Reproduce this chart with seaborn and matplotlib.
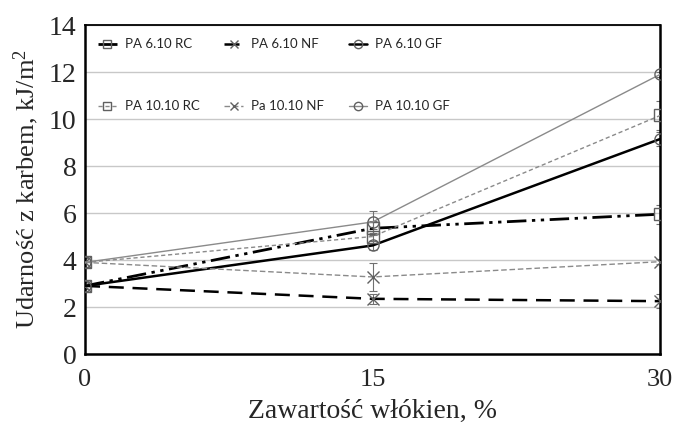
import matplotlib
matplotlib.use("Agg")
import matplotlib.pyplot as plt
import seaborn as sns
import pandas as pd

# Data
fiber = [0, 15, 30]
labels = ["PA 6.10 RC", "PA 6.10 NF", "PA 6.10 GF", "PA 10.10 RC", "Pa 10.10 NF", "PA 10.10 GF"]
pa610_rc = [2.9, 5.35, 5.95]
pa610_nf = [2.9, 2.35, 2.25]
pa610_gf = [2.9, 4.62, 9.15]
pa1010_rc = [3.9, 5.0, 10.15]
pa1010_nf = [3.9, 3.28, 3.93]
pa1010_gf = [3.9, 5.62, 11.9]
err610_rc = [0.15, 0.3, 0.4]
err610_nf = [0.15, 0.2, 0.3]
err610_gf = [0.15, 0.2, 0.3]
err1010_rc = [0.2, 0.3, 0.6]
err1010_nf = [0.2, 0.6, 0.12]
err1010_gf = [0.2, 0.45, 0.12]
yticks = [0, 2, 4, 6, 8, 10, 12, 14]
xticks = [0, 15, 30]

values = [pa610_rc, pa610_nf, pa610_gf, pa1010_rc, pa1010_nf, pa1010_gf]
errors = [err610_rc, err610_nf, err610_gf, err1010_rc, err1010_nf, err1010_gf]

rows = []
for lab, vals in zip(labels, values):
    for x, v in zip(fiber, vals):
        rows.append({"fiber": x, "value": v, "series": lab})
df = pd.DataFrame(rows)

styles = {
    "PA 6.10 RC": dict(color="black", lw=2.0, dashes=(7, 2, 1.2, 2, 1.2, 2), marker="s"),
    "PA 6.10 NF": dict(color="black", lw=1.8, dashes=(6, 3.5), marker="x"),
    "PA 6.10 GF": dict(color="black", lw=1.8, dashes=None, marker="o"),
    "PA 10.10 RC": dict(color="#8a8a8a", lw=1.0, dashes=(3, 2), marker="s"),
    "Pa 10.10 NF": dict(color="#8a8a8a", lw=1.0, dashes=(4, 2), marker="x"),
    "PA 10.10 GF": dict(color="#8a8a8a", lw=1.0, dashes=None, marker="o"),
}

sns.set_theme(style="white")
plt.rcParams["font.family"] = ["Liberation Serif", "DejaVu Serif"]
plt.rcParams["mathtext.fontset"] = "custom"
plt.rcParams["mathtext.rm"] = "Liberation Serif"
plt.rcParams["mathtext.it"] = "Liberation Serif:italic"

fig = plt.figure(figsize=(6.75, 4.24), dpi=100)
ax = fig.add_axes([0.126, 0.165, 0.852, 0.776])

ax.yaxis.grid(True, color="#c8c8c8", lw=1.0)
ax.set_axisbelow(True)

handles = {}
for lab, errs in zip(labels, errors):
    st = styles[lab]
    sub = df[df["series"] == lab]
    ax.errorbar(sub["fiber"], sub["value"], yerr=errs, fmt="none",
                ecolor="#707070", elinewidth=0.8, capsize=3, capthick=0.8, zorder=2)
    sns.lineplot(data=sub, x="fiber", y="value", ax=ax, color=st["color"],
                 lw=st["lw"], marker=st["marker"], markersize=8,
                 markerfacecolor="none", markeredgecolor="#606060",
                 markeredgewidth=1.0, legend=False, zorder=3)
    line = ax.lines[-1]
    if st["dashes"] is not None:
        line.set_dashes(st["dashes"])
    handles[lab] = line

order = ["PA 6.10 RC", "PA 10.10 RC", "PA 6.10 NF", "Pa 10.10 NF", "PA 6.10 GF", "PA 10.10 GF"]
leg = ax.legend([handles[o] for o in order], order, ncol=3, loc="upper left",
                bbox_to_anchor=(0.0, 1.0), frameon=False, handlelength=1.4,
                handletextpad=0.6, columnspacing=1.9, labelspacing=3.8,
                borderaxespad=0.6, prop={"family": "Lato", "size": 9.5})
for h in leg.legend_handles:
    h.set_markersize(6)

ax.set_xlim(0, 30)
ax.set_ylim(0, 14)
ax.set_xticks(xticks)
ax.set_yticks(yticks)
ax.tick_params(axis="both", labelsize=20, length=4, width=0.8, color="#909090",
               direction="inout")
ax.tick_params(axis="x", pad=9, labelsize=19)
ax.tick_params(axis="y", pad=4)

for side in ["left", "right", "bottom"]:
    ax.spines[side].set_color("black")
    ax.spines[side].set_linewidth(1.8)
ax.spines["top"].set_color("black")
ax.spines["top"].set_linewidth(1.3)

ax.set_xlabel("Zawartość włókien, %", fontsize=20)
ax.xaxis.set_label_coords(0.5, -0.137)
ax.set_ylabel("Udarność z karbem, kJ/m$^{2}$", fontsize=19, labelpad=6)

fig.savefig("out.png", dpi=100)
